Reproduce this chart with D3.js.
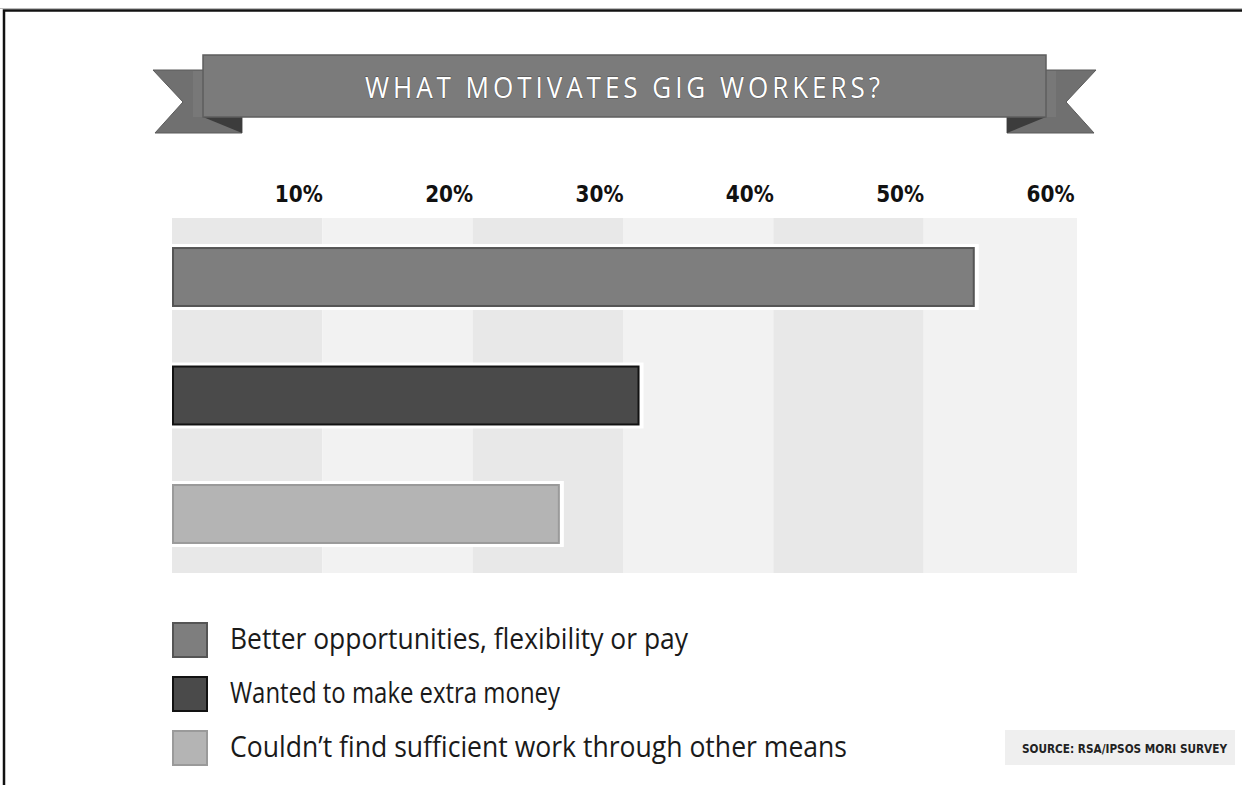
<!DOCTYPE html>
<html>
<head>
<meta charset="utf-8">
<script src="https://cdn.jsdelivr.net/npm/d3@7"></script>
<style>
  html, body { margin: 0; padding: 0; background: #fff; }
  svg { display: block; }
</style>
</head>
<body>
<svg id="chart" width="1242" height="785"></svg>
<script>
// Survey shares (%) by reason for doing gig work
const categories = [
  "Better opportunities, flexibility or pay",
  "Wanted to make extra money",
  "Couldn\u2019t find sufficient work through other means"
];
const values = [53.4, 31.1, 25.8];
const tickValues = [10, 20, 30, 40, 50, 60];
const tickLabels = ["10%", "20%", "30%", "40%", "50%", "60%"];
const fills = ["#7e7e7e", "#4a4a4a", "#b4b4b4"];
const strokes = ["#555555", "#121212", "#9a9a9a"];

const svg = d3.select("#chart");

// page frame
svg.append("line").attr("x1", 0).attr("x2", 1242).attr("y1", 8.5).attr("y2", 8.5)
  .attr("stroke", "#bbb").attr("stroke-width", 1);
svg.append("path").attr("d", "M4,785 V10.5 H1250")
  .attr("fill", "none").attr("stroke", "#111").attr("stroke-width", 2.5);

// ---- title ribbon ----
const cx = 624.5;
const mirror = pts => pts.map(([x, y]) => [2 * cx - x, y]);
const tailL = [[153, 70], [242, 70], [242, 133], [155, 133], [183, 102]];
const foldL = [[203, 117], [242, 117], [242, 133]];
const ribbon = svg.append("g");
const line = d3.line();
[tailL, mirror(tailL)].forEach(p => {
  ribbon.append("path").attr("d", line(p) + "Z")
    .attr("fill", "#707070").attr("stroke", "#5a5a5a").attr("stroke-width", 1);
});
[[193, 203], [1046, 1056]].forEach(([a, b]) => {
  ribbon.append("rect").attr("x", a).attr("y", 71).attr("width", b - a).attr("height", 46)
    .attr("fill", "#787878");
});
[foldL, mirror(foldL)].forEach(p => {
  ribbon.append("path").attr("d", line(p) + "Z").attr("fill", "#3c3c3c");
});
ribbon.append("rect").attr("x", 203).attr("y", 55).attr("width", 1046 - 203).attr("height", 62)
  .attr("fill", "#7b7b7b").attr("stroke", "#5e5e5e").attr("stroke-width", 1.5);

// slightly condensed, letter-spaced title
const sx = 0.9;
ribbon.append("g").attr("transform", `translate(365,97.5) scale(${sx},1)`)
  .append("text").attr("x", 0).attr("y", 0)
  .attr("font-family", "Open Sans").attr("font-size", 29).attr("fill", "#fff")
  .attr("stroke", "#4a4a4a").attr("stroke-width", 0.8).attr("paint-order", "stroke")
  .attr("textLength", 515 / sx).attr("lengthAdjust", "spacing")
  .text("WHAT MOTIVATES GIG WORKERS?");

// ---- plot ----
const plotLeft = 172, plotRight = 1074, plotTop = 218, plotBottom = 573, bgRight = 1077;
const x = d3.scaleLinear().domain([0, 60]).range([plotLeft, plotRight]);
const y = d3.scaleBand().domain(categories).range([plotTop, plotBottom])
  .paddingInner(0.494).paddingOuter(0.245);

// alternating column bands
const cols = d3.range(0, 60, 10);
svg.append("g").selectAll("rect").data(cols).join("rect")
  .attr("x", d => x(d))
  .attr("y", plotTop)
  .attr("width", d => (d === 50 ? bgRight : x(d + 10)) - x(d))
  .attr("height", plotBottom - plotTop)
  .attr("fill", (d, i) => i % 2 === 0 ? "#e8e8e8" : "#f2f2f2");

// axis labels across the top
const axis = d3.axisTop(x).tickValues(tickValues)
  .tickFormat((d, i) => tickLabels[i]).tickSize(0).tickPadding(0);
const ax = svg.append("g").attr("transform", "translate(0,202)").call(axis);
ax.select(".domain").remove();
ax.selectAll("text")
  .attr("text-anchor", "end").attr("dy", 0)
  .attr("font-family", "DejaVu Sans").attr("font-weight", "bold")
  .attr("font-size", 23).attr("fill", "#111")
  .attr("textLength", 48).attr("lengthAdjust", "spacingAndGlyphs");

// bars with white halo and darker edge
const bars = svg.append("g").selectAll("g").data(categories).join("g");
bars.append("rect")
  .attr("x", plotLeft)
  .attr("y", d => y(d) - 3)
  .attr("width", (d, i) => x(values[i]) - plotLeft + 4)
  .attr("height", y.bandwidth() + 6)
  .attr("fill", "#fff");
bars.append("rect")
  .attr("x", plotLeft + 1)
  .attr("y", d => y(d) + 1)
  .attr("width", (d, i) => x(values[i]) - plotLeft - 2)
  .attr("height", y.bandwidth() - 2)
  .attr("fill", (d, i) => fills[i])
  .attr("stroke", (d, i) => strokes[i])
  .attr("stroke-width", 2);

// ---- legend ----
const legendY = [622, 676, 730];
const legendW = [458, 330, 617];
const lg = svg.append("g").selectAll("g").data(categories).join("g")
  .attr("transform", (d, i) => `translate(172,${legendY[i]})`);
lg.append("rect").attr("x", 1).attr("y", 1).attr("width", 34).attr("height", 34)
  .attr("fill", (d, i) => fills[i]).attr("stroke", (d, i) => strokes[i]).attr("stroke-width", 2);
lg.append("text").attr("x", 58).attr("y", 27)
  .attr("font-family", "Open Sans").attr("font-size", 29).attr("fill", "#1a1a1a")
  .attr("textLength", (d, i) => legendW[i]).attr("lengthAdjust", "spacingAndGlyphs")
  .text(d => d);

// ---- source note ----
svg.append("rect").attr("x", 1005).attr("y", 730).attr("width", 230).attr("height", 35)
  .attr("fill", "#efefef");
svg.append("g").attr("transform", "translate(1022,753) scale(1,1.2)")
  .append("text").attr("x", 0).attr("y", 0)
  .attr("font-family", "DejaVu Sans").attr("font-weight", "bold").attr("font-size", 9.6)
  .attr("fill", "#222").attr("textLength", 205).attr("lengthAdjust", "spacingAndGlyphs")
  .text("SOURCE: RSA/IPSOS MORI SURVEY");
</script>
</body>
</html>
